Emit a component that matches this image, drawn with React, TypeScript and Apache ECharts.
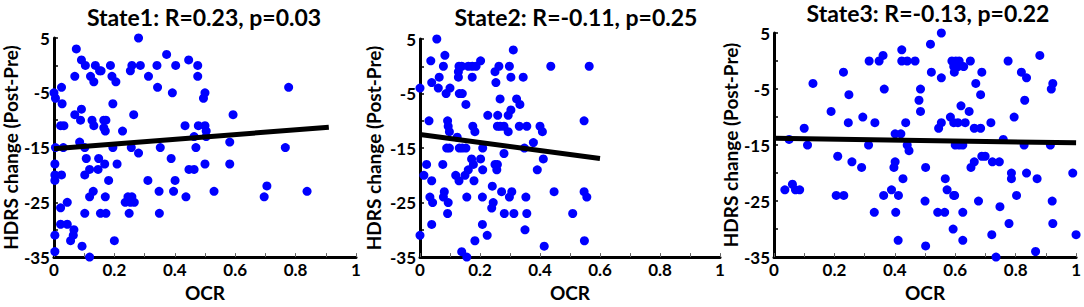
import React, { useEffect, useRef } from "react";
import * as echarts from "echarts";

// ---------- data ----------
const titles = ["State1: R=0.23, p=0.03", "State2: R=-0.11, p=0.25", "State3: R=-0.13, p=0.22"];
const xName = "OCR";
const yName = "HDRS change (Post-Pre)";

const s1x = [0.28,0.074,0.091,0.104,0.137,0.151,0.156,0.187,0.069,0.121,0.132,0.192,0.205,0.253,0.258,0.286,0.313,0.341,0.343,0.373,0.392,0.403,0.446,0.476,0.476,0.5,0.495,0.777,0,0.005,0.025,0.027,0.069,0.091,0.088,0.195,0.264,0.022,0.033,0.126,0.132,0.165,0.172,0.165,0.17,0.227,0.434,0.478,0.5,0.504,0.504,0.464,0.593,0.085,0.005,0.031,0.102,0.195,0.256,0.352,0.47,0.582,0.766,0.28,0.107,0.148,0.388,0.003,0.168,0.209,0.5,0.582,0.118,0.146,0.447,0.464,0.003,0.025,0.102,0.003,0.181,0.311,0.401,0.705,0.13,0.348,0.396,0.53,0.838,0.118,0.17,0.245,0.258,0.437,0.696,0.236,0.266,0.253,0.044,0.022,0.102,0.154,0.172,0.249,0.349,0.022,0.044,0.066,0.064,0.003,0.055,0.2,0.093,0.003,0.118];
const s1y = [5,3,1,0,0,-1,-1,0,-2,-2,-3,-2,-3,-1,0,0,-2,0,-4,2,-5,0,1,0,-2,-5,-6,-4,-5,-6,-4,-7,-9,-8,-10,-7,-9,-11,-11,-10,-11,-10,-10,-11.4,-12,-12,-11,-11,-11,-12,-13,-13,-9,-14,-15,-15,-15,-15,-15,-15,-15,-14,-15,-16,-17,-17,-17,-18,-18,-18,-18,-18,-19,-19,-19,-19,-20,-20,-20,-21,-21,-21,-21,-22,-23,-23,-23,-23,-23,-24,-24,-24,-24,-24,-24,-25,-25,-25,-25,-26,-27,-27,-27,-27,-27,-29,-29,-30,-31,-31,-32,-32,-33,-34,-35];

const s2x = [0.056,0.311,0.083,0.036,0.202,0.078,0.13,0.139,0.161,0.174,0.187,0.263,0.298,0.436,0.564,0.25,0.128,0.128,0.064,0.174,0.303,0.344,0.039,0.253,0.061,0.1,0,0.087,0.131,0.141,0.322,0.267,0.153,0.333,0.303,0.294,0.226,0.259,0.03,0.092,0.547,0.094,0.176,0.258,0.267,0.28,0.331,0.356,0.4,0.098,0.183,0.294,0.408,0.124,0.378,0.089,0.098,0.131,0.141,0.153,0.209,0.348,0.28,0.172,0.202,0.411,0.022,0.076,0.178,0.25,0.258,0.161,0.209,0.256,0.391,0.013,0.119,0.15,0.039,0.13,0.18,0.241,0.081,0.272,0.306,0.447,0.547,0.033,0.078,0.156,0.208,0.298,0.353,0.556,0.042,0.094,0.244,0.239,0.092,0.281,0.313,0.356,0.509,0.039,0.208,0.35,0,0.224,0.183,0.548,0.414,0.139,0.156];
const s2y = [5,3,2,1,1,0,0,0,0,0,0,0,0,0,0,-1,-1,-2,-2,-2,-2,-2,-3,-3,-4,-4,-4,-5,-5,-5,-6,-6,-7,-7,-8,-9,-9,-9,-10,-10,-10,-11,-11,-11,-11,-11,-11,-11,-11,-12,-12,-12,-12,-13,-14,-15,-15,-15,-15,-15,-15,-15,-16,-17,-17,-17,-18,-18,-18,-18,-18,-19,-19,-19,-19,-20,-20,-20,-21,-21,-21,-22,-23,-23,-23,-23,-23,-24,-24,-24,-24,-24,-24,-24,-25,-25,-25,-26,-27,-27,-27,-27,-27,-29,-29,-30,-31,-31,-32,-32,-33,-34,-35];

const s3x = [0.554,0.88,0.518,0.423,0.361,0.315,0.348,0.423,0.441,0.467,0.589,0.602,0.613,0.65,0.775,0.595,0.609,0.628,0.23,0.521,0.597,0.688,0.819,0.554,0.836,0.129,0.668,0.923,0.365,0.485,0.918,0.248,0.684,0.48,0.83,0.619,0.189,0.485,0.646,0.294,0.584,0.795,0.246,0.334,0.436,0.554,0.595,0.609,0.633,0.718,0.1,0.545,0.663,0.684,0.401,0.42,0.05,0.759,0.111,0.313,0.441,0.6,0.613,0.625,0.828,0.915,0.447,0.211,0.688,0.699,0.258,0.401,0.663,0.723,0.746,0.29,0.397,0.502,0.652,0.786,0.836,0.989,0.427,0.567,0.786,0.871,0.061,0.036,0.071,0.085,0.389,0.573,0.206,0.231,0.363,0.412,0.595,0.598,0.803,0.5,0.677,0.921,0.748,0.332,0.403,0.542,0.565,0.625,0.778,0.923,0.593,0.721,1.0,0.411,0.625,0.502,0.866,0.735];
const s3y = [5,1,3,2,1,0,0,0,0,0,0,0,0,0,0,-1,-1,-1,-2,-2,-2,-2,-2,-3,-3,-4,-4,-4,-5,-5,-5,-6,-6,-7,-7,-8,-9,-9,-9,-10,-10,-10,-11,-11,-11,-11,-11,-11,-11,-11,-12,-12,-12,-12,-13,-13,-14,-14,-15,-15,-15,-15,-15,-15,-15,-15,-16,-17,-17,-17,-18,-18,-18,-18,-18,-19,-19,-19,-19,-20,-20,-20,-21,-21,-21,-21,-22,-23,-23,-23,-23,-23,-24,-24,-24,-24,-24,-24,-24,-25,-25,-25,-26,-27,-27,-27,-27,-27,-29,-29,-30,-31,-31,-32,-32,-33,-34,-35];

const fit1x = [0, 0.91];
const fit1y = [-15.2, -11.3];
const fit2x = [0, 0.6];
const fit2y = [-12.5, -16.9];
const fit3x = [0, 1];
const fit3y = [-13.8, -14.6];

const xMin = 0, xMax = 1, xStep = 0.1;
const yMin = -35, yMax = 5, yStep = 5;

// ---------- layout ----------
const grids = [
  { left: 52, top: 38, width: 304, height: 229 },
  { left: 420, top: 39, width: 300, height: 229 },
  { left: 774, top: 33, width: 304, height: 228 },
];
const titleCenters = [[204, 5], [576, 5], [928, 1]];
const yNameGaps = [30, 37, 32];
const xNameGaps = [20, 19, 22];

const FONT = "Lato, 'Open Sans', sans-serif";

const zip = (xs: number[], ys: number[]) => xs.map((x, i) => [x, ys[i]]);

export default function App() {
  const ref = useRef<HTMLDivElement>(null);
  useEffect(() => {
    if (!ref.current) return;
    const chart = echarts.init(ref.current, null, { renderer: "svg" });
    const scat = [zip(s1x, s1y), zip(s2x, s2y), zip(s3x, s3y)];
    const fits = [zip(fit1x, fit1y), zip(fit2x, fit2y), zip(fit3x, fit3y)];
    const option: any = {
      animation: false,
      backgroundColor: "#ffffff",
      title: titles.map((t, i) => ({
        text: t,
        left: titleCenters[i][0],
        top: titleCenters[i][1],
        textAlign: "center",
        padding: 0,
        textStyle: { fontFamily: FONT, fontWeight: "bold", fontSize: 23, lineHeight: 24, color: "#000" },
      })),
      grid: grids.map((g) => ({ ...g, containLabel: false })),
      xAxis: grids.map((_, i) => ({
        type: "value",
        gridIndex: i,
        min: xMin,
        max: xMax,
        interval: xStep,
        name: xName,
        nameLocation: "middle",
        nameGap: xNameGaps[i],
        nameTextStyle: { fontFamily: FONT, fontWeight: "bold", fontSize: 19, color: "#000" },
        axisLine: { show: true, onZero: false, lineStyle: { color: "#000", width: 3 } },
        axisTick: { show: true, inside: true, length: 4, lineStyle: { color: "#666", width: 1 } },
        splitLine: { show: false },
        axisLabel: {
          margin: 4,
          fontFamily: FONT,
          fontWeight: "bold",
          fontSize: 17,
          color: "#000",
          formatter: (v: number) => {
            const r = Math.round(v * 10);
            return r % 2 === 0 ? String(r / 10) : "";
          },
        },
      })),
      yAxis: grids.map((_, i) => ({
        type: "value",
        gridIndex: i,
        min: yMin,
        max: yMax,
        interval: yStep,
        name: yName,
        nameLocation: "middle",
        nameGap: yNameGaps[i],
        nameTextStyle: { fontFamily: FONT, fontWeight: "bold", fontSize: 19, color: "#000" },
        axisLine: { show: true, onZero: false, lineStyle: { color: "#000", width: 3 } },
        axisTick: { show: true, inside: true, length: 4, lineStyle: { color: "#000", width: 1.5 } },
        splitLine: { show: false },
        axisLabel: {
          margin: 4,
          fontFamily: FONT,
          fontWeight: "bold",
          fontSize: 17,
          color: "#000",
          formatter: (v: number) => (Math.round(v - yMin) % 10 === 0 ? String(v) : ""),
        },
      })),
      series: [
        ...scat.map((d, i) => ({
          type: "scatter",
          xAxisIndex: i,
          yAxisIndex: i,
          data: d,
          symbolSize: 9,
          itemStyle: { color: "#0000FF", opacity: 1 },
          z: 2,
        })),
        ...fits.map((d, i) => ({
          type: "line",
          xAxisIndex: i,
          yAxisIndex: i,
          data: d,
          symbol: "none",
          lineStyle: { color: "#000", width: 5 },
          z: 3,
        })),
      ],
    };
    chart.setOption(option);
    return () => chart.dispose();
  }, []);
  return (
    <div
      ref={ref}
      style={{ position: "absolute", left: 0, top: 0, width: 1084, height: 307 }}
    />
  );
}
